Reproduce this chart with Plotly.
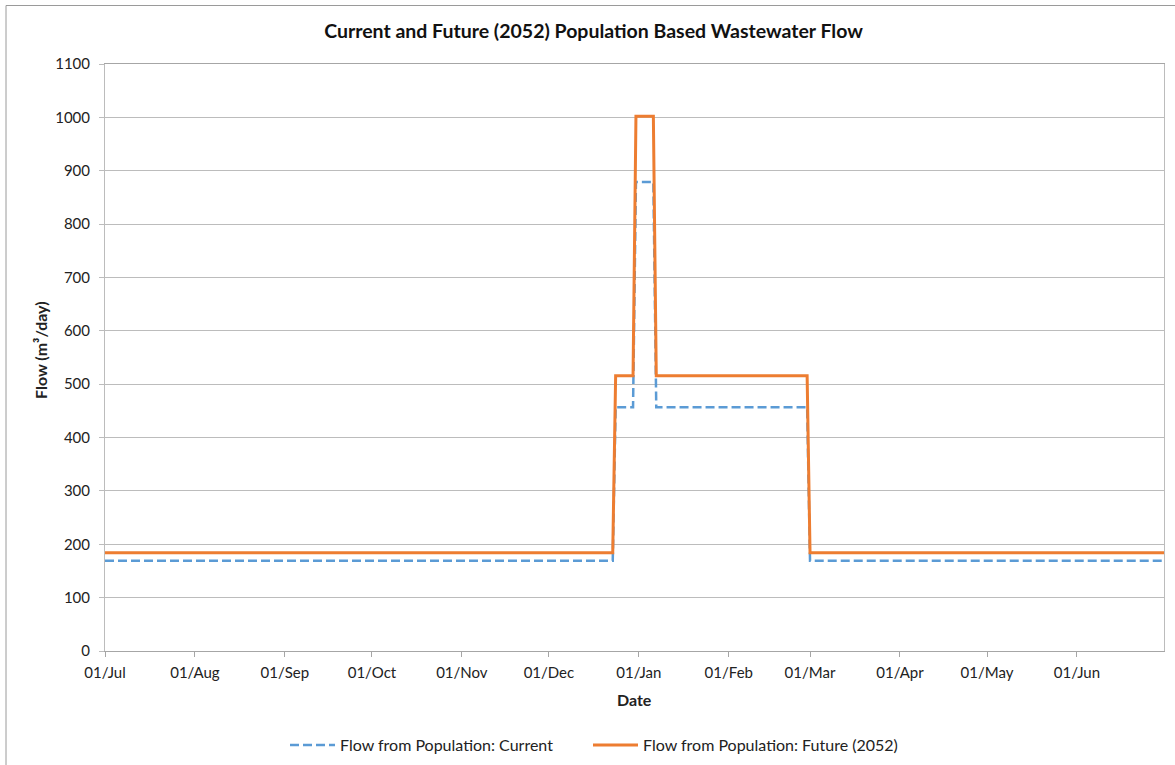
import plotly.graph_objects as go

dates = ["2022-07-01", "2022-12-23", "2022-12-24", "2022-12-30", "2022-12-31",
         "2023-01-06", "2023-01-07", "2023-02-28", "2023-03-01", "2023-07-01"]
flow_current = [169, 169, 457, 457, 879, 879, 457, 457, 169, 169]
flow_future = [184, 184, 516, 516, 1002, 1002, 516, 516, 184, 184]

y_ticks = list(range(0, 1101, 100))
x_ticks = ["2022-07-01", "2022-08-01", "2022-09-01", "2022-10-01", "2022-11-01", "2022-12-01",
           "2023-01-01", "2023-02-01", "2023-03-01", "2023-04-01", "2023-05-01", "2023-06-01"]
x_labels = ["01/Jul", "01/Aug", "01/Sep", "01/Oct", "01/Nov", "01/Dec",
            "01/Jan", "01/Feb", "01/Mar", "01/Apr", "01/May", "01/Jun"]

FONT = "Lato, 'Open Sans', sans-serif"
W, H = 1175, 765
# target plot area in page pixels
PX0, PX1, PY0, PY1 = 105, 1164, 64, 651
L, T = PX0, PY0
R, B = W - PX1, H - PY1
PW, PH = PX1 - PX0, PY1 - PY0


def px(xp):
    return (xp - PX0) / PW


def py(yp):
    return (PY1 - yp) / PH


fig = go.Figure()
fig.add_trace(go.Scatter(
    x=dates, y=flow_current, mode="lines",
    name="Flow from Population: Current", legend="legend",
    line=dict(color="#5B9BD5", width=2.5, dash="9px,4px"),
))
fig.add_trace(go.Scatter(
    x=dates, y=flow_future, mode="lines",
    name="Flow from Population: Future (2052)", legend="legend2",
    line=dict(color="#ED7D31", width=3),
))

leg_common = dict(orientation="h", xanchor="left", y=py(745), yanchor="middle",
                  font=dict(size=16), bgcolor="rgba(0,0,0,0)", itemwidth=45)

fig.update_layout(
    width=W, height=H,
    margin=dict(l=L, r=R, t=T, b=B, autoexpand=False),
    paper_bgcolor="white", plot_bgcolor="white",
    font=dict(family=FONT, size=15, color="#222222"),
    title=dict(text="<b>Current and Future (2052) Population Based Wastewater Flow</b>",
               xref="container", x=593.5 / W, xanchor="center",
               yref="container", y=1 - 31 / H, yanchor="middle",
               font=dict(family=FONT, size=19.5, color="#111111")),
    showlegend=True,
    legend=dict(x=px(285), **leg_common),
    legend2=dict(x=px(588), **leg_common),
    xaxis=dict(
        type="date", range=["2022-07-01", "2023-07-01"],
        tickvals=x_ticks, ticktext=x_labels, automargin=False,
        showgrid=False, showline=True, linecolor="#A6A6A6", linewidth=1, mirror=True,
        ticks="outside", ticklen=5, tickcolor="#A6A6A6", ticklabelstandoff=3,
        zeroline=False,
    ),
    yaxis=dict(
        range=[0, 1100], tickvals=y_ticks, automargin=False,
        showgrid=True, gridcolor="#BCBCBC", gridwidth=1,
        showline=True, linecolor="#BCBCBC", linewidth=1, mirror=True,
        ticks="outside", ticklen=5, tickcolor="#BCBCBC", ticklabelstandoff=6,
        zeroline=False,
    ),
    annotations=[
        dict(text="<b>Date</b>", xref="paper", yref="paper",
             x=0.5, y=py(699), xanchor="center", yanchor="middle",
             showarrow=False, font=dict(size=16)),
        dict(text="<b>Flow (m³/day)</b>", xref="paper", yref="paper",
             x=px(40), y=py(350), xanchor="center", yanchor="middle",
             textangle=-90, showarrow=False, font=dict(size=16)),
    ],
)

# outer chart border
fig.add_shape(type="rect", xref="paper", yref="paper",
              x0=px(6), x1=px(1181), y0=py(775), y1=py(5.5),
              line=dict(color="#9A9A9A", width=1), layer="below")

fig.write_html(
    "out.html",
    config={"displayModeBar": False},
    post_script="document.body.style.margin='0px';document.body.style.padding='0px';",
)
